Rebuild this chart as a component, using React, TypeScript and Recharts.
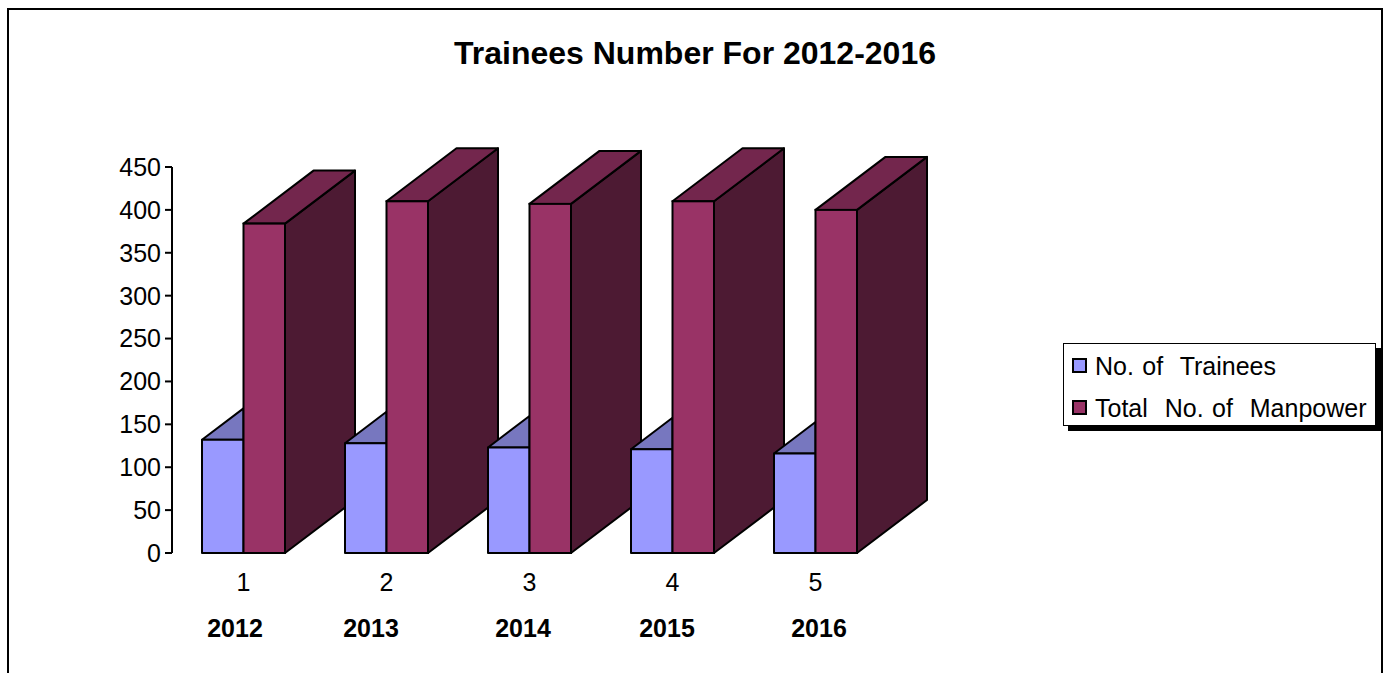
import React from 'react';
import { BarChart, Bar, XAxis, YAxis } from 'recharts';

const categories = ['1', '2', '3', '4', '5'];
const trainees = [132, 128, 123, 121, 116];
const manpower = [384, 410, 407, 410, 400];
const yTicks = [0, 50, 100, 150, 200, 250, 300, 350, 400, 450];
const yearLabels = ['2012', '2013', '2014', '2015', '2016'];
const yearCenters = [235, 371, 523, 667, 819];
const seriesNames = ['No. of  Trainees', 'Total  No. of  Manpower'];
const seriesColors = ['#9999FF', '#993366'];

const data = categories.map((c, i) => ({ cat: c, trainees: trainees[i], manpower: manpower[i] }));

const FONT = '"Liberation Sans", Arial, sans-serif';
const DEPTH_X = 70;
const DEPTH_Y = 53;

// back faces have to sit under the next group's light bar, so they get their own layer
const ManpowerBack = ({ x, y, width, height }: any) => {
  const r = x + width;
  const b = y + height;
  return (
    <g stroke="#000" strokeWidth={2} strokeLinejoin="round">
      <polygon points={`${r},${y} ${r + DEPTH_X},${y - DEPTH_Y} ${r + DEPTH_X},${b - DEPTH_Y} ${r},${b}`} fill="#4D1A33" />
      <polygon points={`${x},${y} ${x + DEPTH_X},${y - DEPTH_Y} ${r + DEPTH_X},${y - DEPTH_Y} ${r},${y}`} fill="#73264D" />
    </g>
  );
};

const Front = ({ x, y, width, height, fill }: any) => (
  <rect x={x} y={y} width={width} height={height} fill={fill} stroke="#000" strokeWidth={2} />
);

// only the part of the top left of the dark bar can be seen
const TraineeBox = ({ x, y, width, height, fill }: any) => {
  const r = x + width;
  return (
    <g stroke="#000" strokeWidth={2} strokeLinejoin="round">
      <polygon points={`${x},${y} ${r},${y} ${r},${y - (width * DEPTH_Y) / DEPTH_X}`} fill="#7777BF" />
      <rect x={x} y={y} width={width} height={height} fill={fill} />
    </g>
  );
};

const LegendBox = () => (
  <div
    style={{
      position: 'absolute',
      left: 1063,
      top: 343,
      width: 313,
      height: 83,
      boxSizing: 'border-box',
      border: '1.5px solid #000',
      boxShadow: '5px 5px 0 #000',
      background: '#fff',
      fontFamily: FONT,
      fontSize: 25,
      color: '#000',
      wordSpacing: 1.5,
    }}
  >
    {seriesNames.map((name, i) => (
      <div key={name} style={{ display: 'flex', alignItems: 'center', height: 42, whiteSpace: 'pre' }}>
        <span
          style={{
            display: 'inline-block',
            width: 15,
            height: 15,
            marginLeft: 8,
            marginRight: 8,
            background: seriesColors[i],
            border: '2px solid #000',
            boxSizing: 'border-box',
          }}
        />
        <span style={{ position: 'relative', top: 1 }}>{name}</span>
      </div>
    ))}
  </div>
);

export default function App() {
  return (
    <div style={{ position: 'fixed', left: 0, top: 0, width: 1388, height: 673, overflow: 'hidden', background: '#fff' }}>
      <div style={{ position: 'absolute', left: 7, top: 8, width: 1376, height: 720, border: '2px solid #000', boxSizing: 'border-box' }} />
      <div
        style={{
          position: 'absolute',
          left: 0,
          width: 1390,
          top: 34,
          textAlign: 'center',
          fontFamily: FONT,
          fontWeight: 'bold',
          fontSize: 32,
          lineHeight: '38px',
          color: '#000',
        }}
      >
        Trainees Number For 2012-2016
      </div>
      <div style={{ position: 'absolute', left: 0, top: 0 }}>
        <BarChart
          width={1388}
          height={673}
          data={data}
          barSize={41.5}
          barGap={0}
          margin={{ top: 167, right: 501, bottom: 80, left: 112 }}
        >
          <XAxis
            dataKey="cat"
            height={40}
            axisLine={false}
            tickLine={false}
            tickMargin={14}
            tick={{ fill: '#000', fontSize: 25, fontFamily: FONT }}
          />
          <XAxis xAxisId="back" dataKey="cat" hide />
          <YAxis
            width={60}
            domain={[0, 450]}
            ticks={yTicks}
            interval={0}
            tickSize={7}
            tickMargin={4}
            axisLine={{ stroke: '#000', strokeWidth: 2 }}
            tickLine={{ stroke: '#000', strokeWidth: 2 }}
            tick={{ fill: '#000', fontSize: 25, fontFamily: FONT }}
          />
          {/* spacer on the back axis keeps the dark faces in the second slot */}
          <Bar xAxisId="back" dataKey="trainees" shape={() => null} isAnimationActive={false} />
          <Bar xAxisId="back" dataKey="manpower" shape={<ManpowerBack />} isAnimationActive={false} />
          <Bar dataKey="trainees" fill={seriesColors[0]} shape={<TraineeBox />} isAnimationActive={false} />
          <Bar dataKey="manpower" fill={seriesColors[1]} shape={<Front />} isAnimationActive={false} />
        </BarChart>
      </div>
      <LegendBox />
      {yearLabels.map((y, i) => (
        <div
          key={y}
          style={{
            position: 'absolute',
            left: yearCenters[i] - 50,
            width: 100,
            top: 614,
            textAlign: 'center',
            fontFamily: FONT,
            fontWeight: 'bold',
            fontSize: 25,
            lineHeight: '28px',
            color: '#000',
          }}
        >
          {y}
        </div>
      ))}
    </div>
  );
}
